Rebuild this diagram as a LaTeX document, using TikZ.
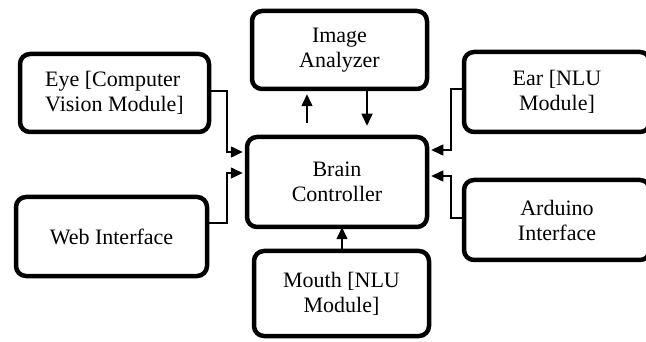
\documentclass[tikz,border=0pt]{standalone}
\usepackage{fontspec}
\setmainfont{Liberation Serif}
\usetikzlibrary{arrows.meta}
\begin{document}
\begin{tikzpicture}[x=1pt,y=-1pt,
  box/.style={draw, line width=4.5pt, rounded corners=10pt, inner sep=0pt,
    align=center, font=\fontsize{22}{25}\selectfont},
  conn/.style={line width=1.5pt, -{Triangle[length=12pt,width=11pt]}}]
\useasboundingbox (0,0) rectangle (646,342);
\clip (0,0) rectangle (646,342);
\fill[white] (0,0) rectangle (646,342);
\node[box, minimum width=189pt, minimum height=78pt, align=left] (eye) at (114.5,93) {Eye [Computer\\Vision Module]};
\node[box, minimum width=175pt, minimum height=78pt] (img) at (339.5,50) {Image\\Analyzer};
\node[box, minimum width=180pt, minimum height=90pt] (brain) at (337,182) {Brain\\Controller};
\node[box, minimum width=191pt, minimum height=79pt] (web) at (111.5,236.5) {Web Interface};
\node[box, minimum width=175pt, minimum height=85pt] (mouth) at (341.5,293.5) {Mouth [NLU\\Module]};
\node[box, minimum width=186pt, minimum height=80pt] (ear) at (557,92) {Ear [NLU\\Module]};
\node[box, minimum width=186pt, minimum height=80pt] (ard) at (557,220) {Arduino\\Interface};
\coordinate (e1) at (227,152);
\coordinate (w1) at (227,173);
\coordinate (r1) at (451,150);
\coordinate (a1) at (451,176);
\coordinate (up) at (307,0);
\coordinate (dn) at (367,0);
\coordinate (mu) at (342,0);
\draw[conn, shorten >=2pt] ([yshift=2pt]eye.east) -| (e1) -- (brain.west |- e1);
\draw[conn, shorten >=2pt] ([yshift=13.5pt]web.east) -| (w1) -- (brain.west |- w1);
\draw[conn, shorten >=2pt] ([yshift=3pt]ear.west) -| (r1) -- (brain.east |- r1);
\draw[conn, shorten >=2pt] ([yshift=2pt]ard.west) -| (a1) -- (brain.east |- a1);
\draw[conn, shorten <=12pt, shorten >=3pt] (brain.north -| up) -- (img.south -| up);
\draw[conn, shorten >=9pt] (img.south -| dn) -- (brain.north -| dn);
\draw[conn, shorten >=-2pt] (mouth.north -| mu) -- (brain.south -| mu);
\end{tikzpicture}
\end{document}
